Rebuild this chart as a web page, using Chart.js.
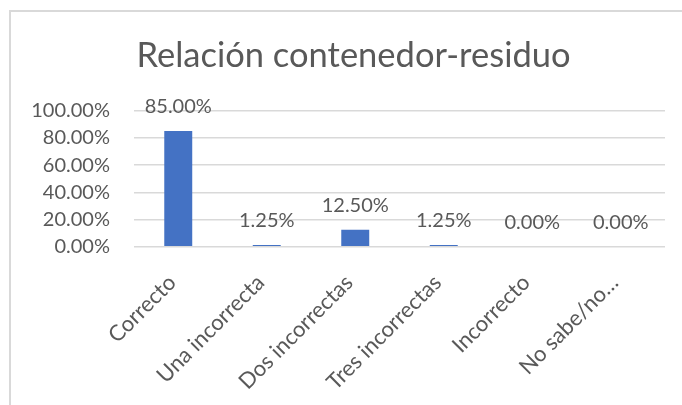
<!DOCTYPE html>
<html>
<head>
<meta charset="utf-8">
<script src="https://cdn.jsdelivr.net/npm/chart.js@4/dist/chart.umd.min.js"></script>
<style>
  html, body { margin: 0; padding: 0; background: #ffffff; }
  #wrap { width: 682px; height: 405px; position: relative; }
</style>
</head>
<body>
<div id="wrap"><canvas id="c" width="682" height="405"></canvas></div>
<script>
const chartTitle = 'Relación contenedor-residuo';
const categories = ['Correcto', 'Una incorrecta', 'Dos incorrectas', 'Tres incorrectas', 'Incorrecto', 'No sabe/no…'];
const percentValues = [85.00, 1.25, 12.50, 1.25, 0.00, 0.00];
const yTickValues = [0, 20, 40, 60, 80, 100];

const FONT = 'Lato, "Open Sans", sans-serif';
const TEXT = '#595959';
const GRID = '#d9d9d9';
const BAR = '#4472c4';

const frame = {
  id: 'frame',
  beforeDraw(chart) {
    const ctx = chart.ctx;
    ctx.save();
    ctx.fillStyle = '#ffffff';
    ctx.fillRect(0, 0, chart.width, chart.height);
    ctx.strokeStyle = GRID;
    ctx.lineWidth = 2;
    ctx.strokeRect(10, 11, chart.width + 20, chart.height + 20);
    ctx.restore();
  },
  afterDraw(chart) {
    const ctx = chart.ctx;
    ctx.save();
    ctx.font = '34.5px ' + FONT;
    ctx.fillStyle = TEXT;
    ctx.textAlign = 'center';
    ctx.textBaseline = 'alphabetic';
    ctx.fillText(chartTitle, 353.5, 67);
    ctx.restore();
  }
};

const valueLabels = {
  id: 'valueLabels',
  afterDatasetsDraw(chart) {
    const ctx = chart.ctx;
    const meta = chart.getDatasetMeta(0);
    ctx.save();
    ctx.font = '20px ' + FONT;
    ctx.fillStyle = TEXT;
    ctx.textAlign = 'center';
    ctx.textBaseline = 'middle';
    meta.data.forEach((bar, i) => {
      const v = chart.data.datasets[0].data[i];
      ctx.fillText(v.toFixed(2) + '%', bar.x, bar.y - 24.5);
    });
    ctx.restore();
  }
};

new Chart(document.getElementById('c'), {
  type: 'bar',
  data: {
    labels: categories,
    datasets: [{
      data: percentValues,
      backgroundColor: BAR,
      borderWidth: 0,
      categoryPercentage: 1,
      barPercentage: 0.316
    }]
  },
  options: {
    responsive: false,
    animation: false,
    devicePixelRatio: 1,
    layout: { padding: { left: 0, right: 17, top: 110.7, bottom: 0 } },
    plugins: {
      legend: { display: false },
      tooltip: { enabled: false },
      title: { display: false }
    },
    scales: {
      y: {
        min: 0,
        max: 100,
        afterBuildTicks(scale) { scale.ticks = yTickValues.map(v => ({ value: v })); },
        afterFit(scale) { scale.width = 134; },
        border: { display: false },
        grid: { color: GRID, lineWidth: 1.5, drawTicks: false },
        ticks: {
          padding: 24,
          color: TEXT,
          font: { family: FONT, size: 20 },
          callback: v => v.toFixed(2) + '%'
        }
      },
      x: {
        afterFit(scale) { scale.height = 158.3; },
        border: { display: false },
        grid: { display: false, drawTicks: false },
        ticks: {
          minRotation: 45,
          maxRotation: 45,
          autoSkip: false,
          padding: 23,
          labelOffset: -6,
          color: TEXT,
          font: { family: FONT, size: 22 }
        }
      }
    }
  },
  plugins: [frame, valueLabels]
});
</script>
</body>
</html>
